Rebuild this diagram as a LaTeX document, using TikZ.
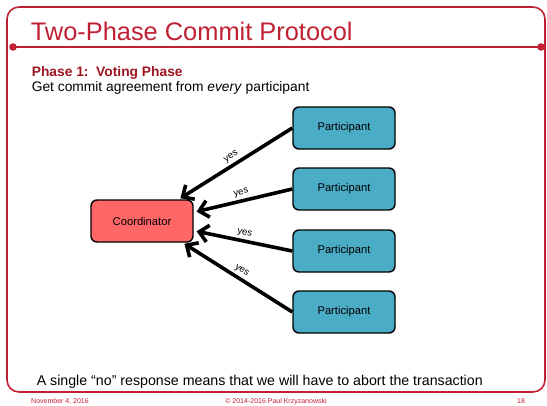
\documentclass[tikz,border=0pt]{standalone}
\usepackage{fontspec}
\setmainfont{Liberation Sans}
\usepackage{xcolor}
\usetikzlibrary{positioning,arrows.meta}

\definecolor{slidered}{RGB}{192,32,52}
\definecolor{headred}{RGB}{160,22,32}
\definecolor{coordred}{RGB}{255,102,102}
\definecolor{partblue}{RGB}{75,172,198}

\begin{document}
\begin{tikzpicture}[x=1pt,y=-1pt,>={Straight Barb[length=9pt,width=17pt]},line width=3.6pt]
  \tikzstyle{box}=[draw,line width=1.4pt,rounded corners=6pt,minimum width=102pt,minimum height=42pt,font=\fontsize{11.2}{13}\selectfont]
  \tikzstyle{vote}=[midway,sloped,above,inner sep=2.5pt,font=\fontsize{9.5}{10}\selectfont]
  \tikzstyle{footer}=[anchor=base,text=slidered,font=\fontsize{7}{8}\selectfont]

  \useasboundingbox (0,0) rectangle (547,405);

  \draw[slidered,line width=1.6pt,rounded corners=12pt] (7,7) rectangle (545,392);
  \coordinate (bl) at (13,47);
  \coordinate (br) at (541,47);
  \draw[slidered,line width=2.8pt] (bl) -- (br);
  \fill[slidered] (bl) circle (3.8pt) (br) circle (3.8pt);

  \node[anchor=base west,inner sep=0pt,text=slidered,font=\fontsize{25.4}{28}\selectfont] (title) at (29,40) {Two-Phase Commit Protocol};
  \node[anchor=base west,inner sep=0pt,text=headred,font=\bfseries\fontsize{13.8}{15}\selectfont] (phase) at (30,76) {Phase 1:\ \ Voting Phase};
  \node[anchor=base west,inner sep=0pt,font=\fontsize{13.8}{15}\selectfont] (goal) at (30,91) {Get commit agreement from \textit{every} participant};

  \node[box,fill=coordred] (coord) at (142,221) {Coordinator};
  \node[box,fill=partblue] (p1) at (344,128) {Participant};
  \node[box,fill=partblue] (p2) at (344,189) {Participant};
  \node[box,fill=partblue] (p3) at (344,251) {Participant};
  \node[box,fill=partblue] (p4) at (344,312) {Participant};

  \draw[<-,shorten <=2pt] ([xshift=-15pt]coord.north east) -- (p1.west) node[vote] {yes};
  \draw[<-,shorten <=3pt] ([yshift=-13pt]coord.north east) -- (p2.west) node[vote] {yes};
  \draw[<-,shorten <=3pt] ([yshift=12pt]coord.south east) -- (p3.west) node[vote] {yes};
  \draw[<-,shorten <=2pt] ([xshift=-11pt]coord.south east) -- (p4.west) node[vote] {yes};

  \node[anchor=base west,inner sep=0pt,font=\fontsize{14.2}{16}\selectfont] (note) at (35,385) {A single “no” response means that we will have to abort the transaction};

  \node[footer] (date) at (60,403.5) {November 4, 2016};
  \node[footer] (copy) at (276,403.5) {© 2014-2016 Paul Krzyzanowski};
  \node[footer] (page) at (521,403.5) {18};
\end{tikzpicture}
\end{document}
